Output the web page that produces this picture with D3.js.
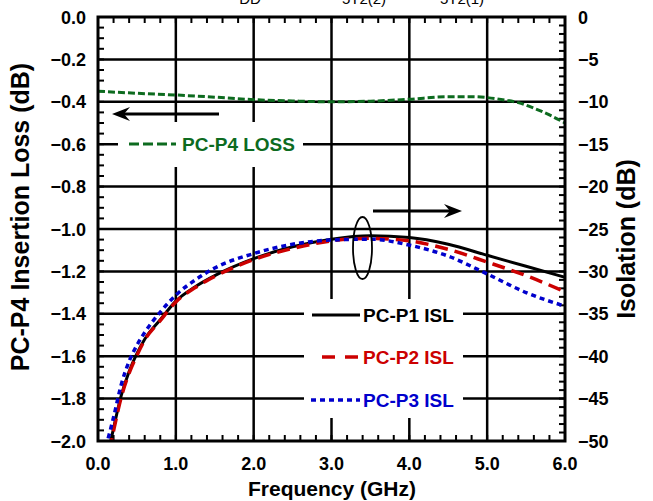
<!DOCTYPE html>
<html>
  <head>
    <title></title>
    <script src="https://d3js.org/d3.v7.min.js" charset="utf-8"></script>
    <style type="text/css">
      body { margin: 0; background: #fff; }
      svg { font-family: "Liberation Sans", Arial, sans-serif; font-weight: bold; }
    </style>
  </head>
  <body>
    <script type="text/javascript">

      // Insertion loss (left axis)
      var freqLoss = [0, 0.5, 1.0, 1.5, 2.0, 2.5, 3.0, 3.5, 4.0, 4.5, 4.8, 5.2, 5.4, 5.6, 5.8, 6.0];
      var lossP4 = [-0.35, -0.36, -0.368, -0.378, -0.39, -0.396, -0.40, -0.397, -0.388, -0.376, -0.376, -0.39, -0.404, -0.43, -0.462, -0.50];

      // Isolation (right axis)
      var freqIso = [0.1, 0.15, 0.2, 0.3, 0.4, 0.5, 0.6, 0.8, 1.0, 1.25, 1.5, 2.0, 2.5, 3.0, 3.5, 4.0, 4.5, 5.0, 5.5, 6.0];
      var islP1 = [-53, -50.6, -48.5, -44.6, -41.8, -39.7, -38.0, -35.7, -33.5, -31.8, -30.5, -28.5, -27.1, -26.2, -25.8, -26.0, -26.8, -28.1, -29.4, -30.7];
      var islP2 = [-53.5, -51, -48.8, -44.8, -42.0, -39.9, -38.1, -35.8, -33.6, -31.9, -30.6, -28.6, -27.3, -26.4, -26.1, -26.4, -27.4, -28.9, -30.5, -32.4];
      var islP3 = [-50.7, -49.0, -47.2, -43.3, -40.6, -38.7, -37.2, -34.8, -32.8, -31.0, -29.6, -27.9, -26.8, -26.3, -26.2, -26.9, -28.2, -30.3, -32.5, -34.1];

      var xTicks = [0, 1, 2, 3, 4, 5, 6];
      var yLeftTicks = [0, -0.2, -0.4, -0.6, -0.8, -1.0, -1.2, -1.4, -1.6, -1.8, -2.0];
      var yRightTicks = [0, -5, -10, -15, -20, -25, -30, -35, -40, -45, -50];

      var width = 653, height = 501;
      // plot box (note: "top" is a reserved window property, so use a box object)
      var box = {l: 98, r: 565, t: 17, b: 441};

      var svg = d3.select("body").append("svg")
          .attr("width", width)
          .attr("height", height);

      var x = d3.scaleLinear().domain([0, 6]).range([box.l, box.r]);
      var yL = d3.scaleLinear().domain([-2, 0]).range([box.b, box.t]);
      var yR = d3.scaleLinear().domain([-50, 0]).range([box.b, box.t]);

      svg.append("clipPath").attr("id", "plot")
        .append("rect")
          .attr("x", box.l).attr("y", box.t)
          .attr("width", box.r - box.l).attr("height", box.b - box.t);

      // Grid lines
      svg.append("g").selectAll("line")
          .data(xTicks.slice(1, -1))
          .join("line")
          .attr("x1", d => x(d)).attr("x2", d => x(d))
          .attr("y1", box.t).attr("y2", box.b)
          .attr("stroke", "#000").attr("stroke-width", 2.5);
      svg.append("g").selectAll("line")
          .data(yLeftTicks.slice(1, -1))
          .join("line")
          .attr("x1", box.l).attr("x2", box.r)
          .attr("y1", d => yL(d)).attr("y2", d => yL(d))
          .attr("stroke", "#000").attr("stroke-width", 2.5);

      // White backing behind legends (hides the grid)
      svg.append("rect").attr("x", 118).attr("y", 122).attr("width", 185).attr("height", 45).attr("fill", "#fff");
      svg.append("rect").attr("x", 304).attr("y", 299).attr("width", 159).attr("height", 119).attr("fill", "#fff");

      // Minor ticks, inward
      var ticks = svg.append("g").attr("stroke", "#000").attr("stroke-width", 2);
      d3.range(0, 6.01, 0.2).forEach(function(f) {
        ticks.append("line").attr("x1", x(f)).attr("x2", x(f)).attr("y1", box.b).attr("y2", box.b - 6);
        ticks.append("line").attr("x1", x(f)).attr("x2", x(f)).attr("y1", box.t).attr("y2", box.t + 6);
      });
      d3.range(-2, 0.001, 0.05).forEach(function(v) {
        ticks.append("line").attr("x1", box.l).attr("x2", box.l + 6).attr("y1", yL(v)).attr("y2", yL(v));
      });
      d3.range(-50, 0.1, 1).forEach(function(v) {
        ticks.append("line").attr("x1", box.r).attr("x2", box.r - 6).attr("y1", yR(v)).attr("y2", yR(v));
      });

      // Curves
      var gCurves = svg.append("g").attr("clip-path", "url(#plot)");
      var lineL = d3.line().x((d, i) => x(freqLoss[i])).y(d => yL(d)).curve(d3.curveMonotoneX);
      var lineR = d3.line().x((d, i) => x(freqIso[i])).y(d => yR(d)).curve(d3.curveMonotoneX);

      var series = [
        {values: islP1, color: "#000000", dash: null, w: 3},
        {values: islP2, color: "#cc0000", dash: "13,7", w: 3.5},
        {values: islP3, color: "#0000cc", dash: "5,4", w: 3.5}
      ];
      gCurves.append("path").datum(lossP4)
          .attr("d", lineL).attr("fill", "none")
          .attr("stroke", "#0d6b1f").attr("stroke-width", 3).attr("stroke-dasharray", "7,3");
      series.forEach(function(s) {
        gCurves.append("path").datum(s.values)
            .attr("d", lineR).attr("fill", "none")
            .attr("stroke", s.color).attr("stroke-width", s.w)
            .attr("stroke-dasharray", s.dash);
      });

      // Frame
      svg.append("rect")
          .attr("x", box.l).attr("y", box.t)
          .attr("width", box.r - box.l).attr("height", box.b - box.t)
          .attr("fill", "none").attr("stroke", "#000").attr("stroke-width", 3);

      // Tick labels
      svg.append("g").selectAll("text")
          .data(xTicks).join("text")
          .attr("x", d => x(d)).attr("y", 470)
          .attr("text-anchor", "middle").attr("font-size", 18)
          .text(d => d3.format(".1f")(d));
      svg.append("g").selectAll("text")
          .data(yLeftTicks).join("text")
          .attr("x", 86).attr("y", d => yL(d) + 6.5)
          .attr("text-anchor", "end").attr("font-size", 18)
          .text(d => d3.format(".1f")(d));
      svg.append("g").selectAll("text")
          .data(yRightTicks).join("text")
          .attr("x", 578).attr("y", d => yR(d) + 6.5)
          .attr("text-anchor", "start").attr("font-size", 18)
          .text(d => d3.format("d")(d));

      // Axis titles
      svg.append("text")
          .attr("x", 332).attr("y", 496)
          .attr("text-anchor", "middle").attr("font-size", 21)
          .text("Frequency  (GHz)");
      svg.append("text")
          .attr("transform", "translate(29,217) rotate(-90)")
          .attr("text-anchor", "middle").attr("font-size", 25)
          .text("PC-P4 Insertion Loss  (dB)");
      svg.append("text")
          .attr("transform", "translate(635,239) rotate(-90)")
          .attr("text-anchor", "middle").attr("font-size", 25)
          .text("Isolation  (dB)");

      // Cut-off labels at the very top
      svg.append("g").attr("font-size", 15).attr("font-weight", "normal")
        .selectAll("text").data([["DD", 250], ["5T2(2)", 364], ["5T2(1)", 462]])
        .join("text")
          .attr("x", d => d[1]).attr("y", 4)
          .attr("text-anchor", "middle")
          .text(d => d[0]);

      // Direction arrows
      function arrow(x1, x2, yy) {
        var dir = x2 > x1 ? 1 : -1;
        svg.append("line")
            .attr("x1", x1).attr("x2", x2 - dir * 10).attr("y1", yy).attr("y2", yy)
            .attr("stroke", "#000").attr("stroke-width", 3);
        svg.append("path")
            .attr("d", "M" + x2 + "," + yy +
                       "L" + (x2 - dir * 18) + "," + (yy - 7) +
                       "L" + (x2 - dir * 12) + "," + yy +
                       "L" + (x2 - dir * 18) + "," + (yy + 7) + "Z")
            .attr("fill", "#000");
      }
      arrow(219, 112, 114);
      arrow(373, 462, 211);

      svg.append("ellipse")
          .attr("cx", 362.5).attr("cy", 248).attr("rx", 9.5).attr("ry", 31)
          .attr("fill", "none").attr("stroke", "#000").attr("stroke-width", 1.8);

      // Legends
      var legend = [
        {label: "PC-P4 LOSS", color: "#0d6b1f", dash: "10,4", w: 3, x1: 129, x2: 176, y: 144, tx: 182},
        {label: "PC-P1 ISL", color: "#000000", dash: null, w: 3, x1: 312, x2: 360, y: 315, tx: 363},
        {label: "PC-P2 ISL", color: "#cc0000", dash: "13,10", w: 3.5, x1: 322, x2: 358, y: 357, tx: 363},
        {label: "PC-P3 ISL", color: "#0000cc", dash: "5,4", w: 3.5, x1: 311, x2: 360, y: 400, tx: 363}
      ];
      var lg = svg.append("g").selectAll("g").data(legend).join("g");
      lg.append("line")
          .attr("x1", d => d.x1).attr("x2", d => d.x2)
          .attr("y1", d => d.y).attr("y2", d => d.y)
          .attr("stroke", d => d.color).attr("stroke-width", d => d.w)
          .attr("stroke-dasharray", d => d.dash);
      lg.append("text")
          .attr("x", d => d.tx).attr("y", d => d.y + 7)
          .attr("font-size", 19).attr("fill", d => d.color)
          .text(d => d.label);

    </script>
  </body>
</html>
